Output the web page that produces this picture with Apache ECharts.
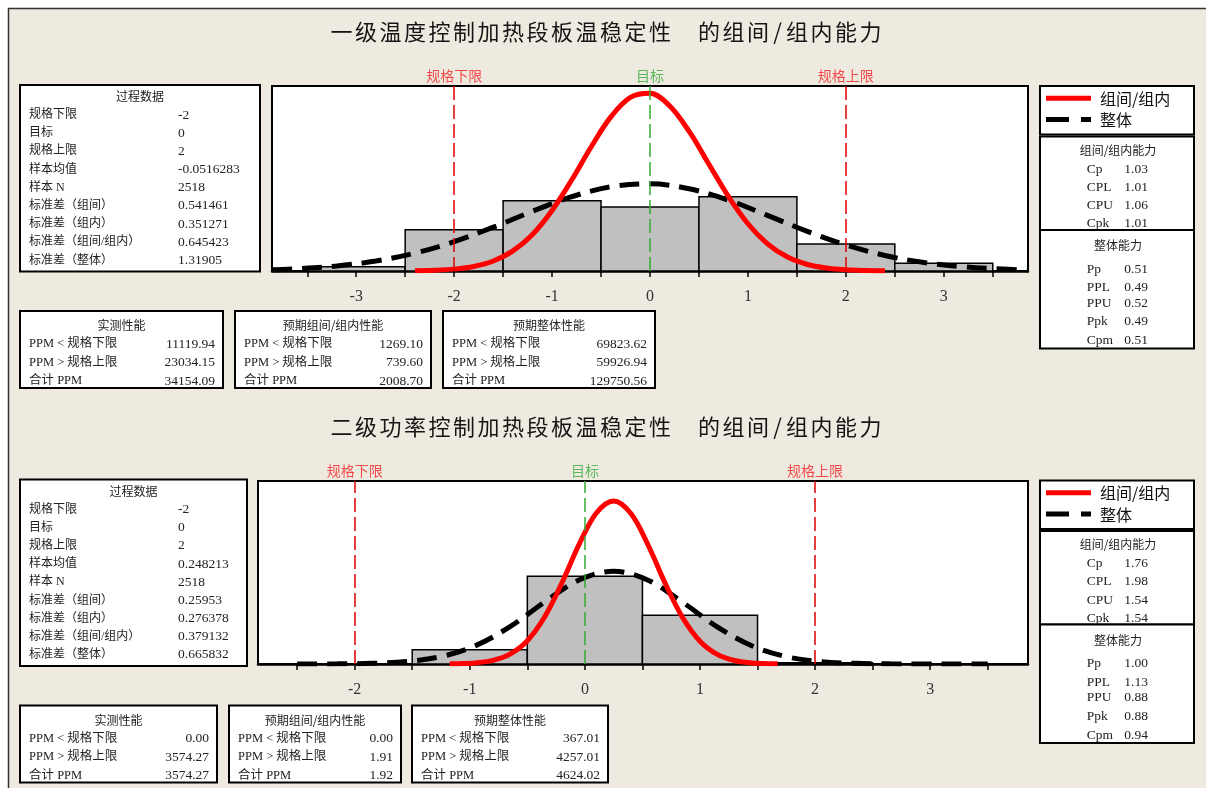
<!DOCTYPE html>
<html><head><meta charset="utf-8">
<script src="https://cdn.jsdelivr.net/npm/echarts@6/dist/echarts.min.js"></script>
<style>html,body{margin:0;padding:0;background:#fff;}#c{width:1206px;height:788px;}</style>
</head><body><div id="c"></div>
<script>
// ---------------- DATA ----------------
const SPEC_X = [-2, 0, 2];
const SPEC_NAMES = ['规格下限', '目标', '规格上限'];
const LEGEND_NAMES = ['组间/组内', '整体'];

const TITLE_1 = '一级温度控制加热段板温稳定性 的组间/组内能力';
const TITLE_2 = '二级功率控制加热段板温稳定性 的组间/组内能力';

// histogram bins (edges) and counts
const BIN_EDGES_1 = [-3.5, -2.5, -1.5, -0.5, 0.5, 1.5, 2.5, 3.5];
const BIN_COUNTS_1 = [37, 360, 613, 558, 648, 236, 67];
const BIN_EDGES_2 = [-1.5, -0.5, 0.5, 1.5, 2.5];
const BIN_COUNTS_2 = [230, 1426, 792, 20];

// fitted curves (x, count-scale height)
const WITHIN_X_1 = [-2.4, -2.2, -2.0, -1.8, -1.6, -1.4, -1.2, -1.0, -0.8, -0.6, -0.4, -0.2, 0, 0.2, 0.4, 0.6, 0.8, 1.0, 1.2, 1.4, 1.6, 1.8, 2.0, 2.2, 2.4];
const WITHIN_Y_1 = [2.1, 6.1, 16.3, 39.6, 87.5, 175.5, 319.6, 528.6, 794, 1084.5, 1345, 1515, 1551, 1442, 1218, 934.7, 651.5, 412.7, 237.3, 124.1, 58.9, 25.4, 9.9, 3.5, 1.2];
const OVERALL_X_1 = [-3.86, -3.6, -3.2, -2.8, -2.4, -2.0, -1.6, -1.2, -0.8, -0.4, 0, 0.4, 0.8, 1.2, 1.6, 2.0, 2.4, 2.8, 3.2, 3.6, 3.86];
const OVERALL_Y_1 = [11.8, 20.4, 44.1, 86.9, 156.1, 255.8, 382.4, 521.4, 648.3, 735.5, 761.0, 718.3, 618.3, 485.5, 347.7, 227.2, 135.4, 73.6, 36.5, 16.5, 9.4];

const WITHIN_X_2 = [-1.175, -1.1, -0.95, -0.8, -0.65, -0.5, -0.35, -0.2, -0.05, 0.1, 0.25, 0.4, 0.55, 0.7, 0.85, 1.0, 1.15, 1.3, 1.45, 1.6, 1.675];
const WITHIN_Y_2 = [2.3, 4.8, 18.0, 58.0, 160.1, 378.1, 763.1, 1317.4, 1944.8, 2454.6, 2649.6, 2445.6, 1930.2, 1302.5, 751.7, 370.9, 156.6, 56.5, 17.4, 4.6, 2.2];
const OVERALL_X_2 = [-2.5, -2.15, -1.85, -1.55, -1.25, -0.95, -0.65, -0.35, -0.05, 0.25, 0.55, 0.85, 1.15, 1.45, 1.75, 2.05, 2.35, 2.65, 2.95, 3.25, 3.5];
const OVERALL_Y_2 = [0.3, 2.3, 10.5, 39.3, 120.0, 298.7, 607.4, 1007.7, 1364.8, 1508.7, 1361.5, 1002.8, 602.9, 295.9, 118.5, 38.8, 10.3, 2.3, 0.4, 0.05, 0];

const TICKS_1 = [-3.5, -3, -2.5, -2, -1.5, -1, -0.5, 0, 0.5, 1, 1.5, 2, 2.5, 3, 3.5];
const LABELS_1 = [-3, -2, -1, 0, 1, 2, 3];
const TICKS_2 = [-2.5, -2, -1.5, -1, -0.5, 0, 0.5, 1, 1.5, 2, 2.5, 3, 3.5];
const LABELS_2 = [-2, -1, 0, 1, 2, 3];

const PROC_TITLE = '过程数据';
const PROC_LABELS = ['规格下限', '目标', '规格上限', '样本均值', '样本 N', '标准差（组间）', '标准差（组内）', '标准差（组间/组内）', '标准差（整体）'];
const PROC_VALUES_1 = ['-2', '0', '2', '-0.0516283', '2518', '0.541461', '0.351271', '0.645423', '1.31905'];
const PROC_VALUES_2 = ['-2', '0', '2', '0.248213', '2518', '0.25953', '0.276378', '0.379132', '0.665832'];

const PPM_TITLES = ['实测性能', '预期组间/组内性能', '预期整体性能'];
const PPM_LABELS = ['PPM < 规格下限', 'PPM > 规格上限', '合计 PPM'];
const PPM_OBS_1 = ['11119.94', '23034.15', '34154.09'];
const PPM_EXPW_1 = ['1269.10', '739.60', '2008.70'];
const PPM_EXPO_1 = ['69823.62', '59926.94', '129750.56'];
const PPM_OBS_2 = ['0.00', '3574.27', '3574.27'];
const PPM_EXPW_2 = ['0.00', '1.91', '1.92'];
const PPM_EXPO_2 = ['367.01', '4257.01', '4624.02'];

const CAP_W_TITLE = '组间/组内能力';
const CAP_O_TITLE = '整体能力';
const CAP_W_LABELS = ['Cp', 'CPL', 'CPU', 'Cpk'];
const CAP_O_LABELS = ['Pp', 'PPL', 'PPU', 'Ppk', 'Cpm'];
const CAP_W_1 = ['1.03', '1.01', '1.06', '1.01'];
const CAP_O_1 = ['0.51', '0.49', '0.52', '0.49', '0.51'];
const CAP_W_2 = ['1.76', '1.98', '1.54', '1.54'];
const CAP_O_2 = ['1.00', '1.13', '0.88', '0.88', '0.94'];

// ---------------- LAYOUT ----------------
const CJK = "'Noto Sans CJK SC'";
const MIX = "'Liberation Serif', 'Noto Sans CJK SC'";
const BEIGE = '#eeeae0';
const VF = '13.5px ' + MIX;

const PANELS = [
  { dy: 0, title: TITLE_1, grid: { left: 272, top: 86, width: 756, height: 185 },
    xMin: -3.86, xMax: 3.86, yMax: 1615, ticks: TICKS_1, labels: LABELS_1,
    edges: BIN_EDGES_1, counts: BIN_COUNTS_1,
    wx: WITHIN_X_1, wy: WITHIN_Y_1, ox: OVERALL_X_1, oy: OVERALL_Y_1,
    proc: { x: 20, w: 240, values: PROC_VALUES_1 },
    ppm: [{ x: 20, w: 203, v: PPM_OBS_1 }, { x: 235, w: 196, v: PPM_EXPW_1 }, { x: 443, w: 212, v: PPM_EXPO_1 }],
    capW: CAP_W_1, capO: CAP_O_1 },
  { dy: 394.5, title: TITLE_2, grid: { left: 258, top: 481, width: 770, height: 183 },
    xMin: -2.84, xMax: 3.85, yMax: 2975, ticks: TICKS_2, labels: LABELS_2,
    edges: BIN_EDGES_2, counts: BIN_COUNTS_2,
    wx: WITHIN_X_2, wy: WITHIN_Y_2, ox: OVERALL_X_2, oy: OVERALL_Y_2,
    proc: { x: 20, w: 227, values: PROC_VALUES_2 },
    ppm: [{ x: 20, w: 197, v: PPM_OBS_2 }, { x: 229, w: 172, v: PPM_EXPW_2 }, { x: 412, w: 196, v: PPM_EXPO_2 }],
    capW: CAP_W_2, capO: CAP_O_2 }
];

function txt(x, y, s, font, fill, align, z) {
  const a = align || 'left';
  return { type: 'text', x: x, y: y, z: z || 20, silent: true,
    style: { text: s, font: font, fill: fill || '#222', align: a, verticalAlign: 'middle', textAlign: a, textVerticalAlign: 'middle' } };
}
function box(x, y, w, h, z) {
  return { type: 'rect', z: z || 10, silent: true, shape: { x: x, y: y, width: w, height: h },
    style: { fill: '#fff', stroke: '#000', lineWidth: 2 } };
}
function titleEls(str, cy) {
  const fs = 22, pitch = 24.5;
  const chars = Array.from(str);
  const adv = c => c === '/' ? pitch * 0.6 : pitch;
  const total = chars.reduce((s, c) => s + adv(c), 0) - (pitch - fs);
  let x = 606 - total / 2;
  const els = [];
  chars.forEach(c => {
    const a = adv(c);
    if (c !== ' ') els.push(txt(x + (a - (pitch - fs)) / 2, cy, c, fs + 'px ' + CJK, '#151515', 'center', 30));
    x += a;
  });
  return els;
}

const graphic = [{ type: 'rect', z: -100, silent: true, shape: { x: 8.5, y: 8.5, width: 1210, height: 790 },
  style: { fill: BEIGE, stroke: '#333', lineWidth: 1.5 } }];

const grids = [], xAxes = [], yAxes = [], series = [];

PANELS.forEach((P, i) => {
  const dy = P.dy;
  graphic.push(...titleEls(P.title, 32 + dy));

  // process data box
  graphic.push(box(P.proc.x, 85 + dy, P.proc.w, 186.5));
  graphic.push(txt(P.proc.x + P.proc.w / 2, 96.7 + dy, PROC_TITLE, '12px ' + CJK, '#222', 'center'));
  PROC_LABELS.forEach((l, k) => {
    const y = 115 + 18.17 * k + dy;
    graphic.push(txt(P.proc.x + 9, y, l, '12px ' + MIX, '#222', 'left'));
    graphic.push(txt(P.proc.x + 158, y, P.proc.values[k], VF, '#222', 'left'));
  });

  // PPM boxes
  P.ppm.forEach((b, j) => {
    graphic.push(box(b.x, 311 + dy, b.w, 77));
    graphic.push(txt(b.x + b.w / 2, 325.5 + dy, PPM_TITLES[j], '12px ' + CJK, '#222', 'center'));
    PPM_LABELS.forEach((l, k) => {
      const y = 344 + 18.5 * k + dy;
      graphic.push(txt(b.x + 9, y, l, '12.5px ' + MIX, '#222', 'left'));
      graphic.push(txt(b.x + b.w - 8, y, b.v[k], VF, '#222', 'right'));
    });
  });

  // legend box
  graphic.push(box(1040, 86 + dy, 154, 48.5));
  graphic.push({ type: 'line', z: 20, silent: true, shape: { x1: 1046, y1: 98.3 + dy, x2: 1091, y2: 98.3 + dy },
    style: { stroke: '#ff0000', lineWidth: 5 } });
  graphic.push({ type: 'line', z: 20, silent: true, shape: { x1: 1046, y1: 119.5 + dy, x2: 1091, y2: 119.5 + dy },
    style: { stroke: '#000', lineWidth: 5, lineDash: [23, 12] } });
  graphic.push(txt(1100, 98.5 + dy, LEGEND_NAMES[0], '16px ' + CJK, '#111', 'left'));
  graphic.push(txt(1100, 120 + dy, LEGEND_NAMES[1], '16px ' + CJK, '#111', 'left'));

  // capability boxes
  graphic.push(box(1040, 136.5 + dy, 154, 93.5, 10));
  graphic.push(txt(1118, 150 + dy, CAP_W_TITLE, '12px ' + CJK, '#222', 'center', 12));
  const wRows = [169, 187.3, 205.5, 223.7];
  CAP_W_LABELS.forEach((l, k) => {
    graphic.push(txt(1086.7, wRows[k] + dy, l, VF, '#222', 'left', 12));
    graphic.push(txt(1124.3, wRows[k] + dy, P.capW[k], VF, '#222', 'left', 12));
  });
  graphic.push(box(1040, 230 + dy, 154, 118.5, 14));
  graphic.push(txt(1118, 245.7 + dy, CAP_O_TITLE, '12px ' + CJK, '#222', 'center', 16));
  const oRows = [269.3, 287.7, 303.3, 321.7, 340.7];
  CAP_O_LABELS.forEach((l, k) => {
    graphic.push(txt(1086.7, oRows[k] + dy, l, VF, '#222', 'left', 16));
    graphic.push(txt(1124.3, oRows[k] + dy, P.capO[k], VF, '#222', 'left', 16));
  });

  // chart grid + axes
  grids.push(Object.assign({ show: true, backgroundColor: '#fff', borderColor: '#000', borderWidth: 2 }, P.grid));
  xAxes.push({ type: 'value', gridIndex: i, min: P.xMin, max: P.xMax,
    axisLine: { show: true, onZero: false, lineStyle: { color: '#000', width: 2.5 } },
    axisTick: { show: true, length: 6, lineStyle: { color: '#000', width: 1.5 }, customValues: P.ticks },
    axisLabel: { show: true, customValues: P.labels, color: '#333', fontFamily: 'Liberation Serif', fontSize: 16, margin: 18,
      formatter: v => String(v) },
    splitLine: { show: false } });
  yAxes.push({ type: 'value', gridIndex: i, min: 0, max: P.yMax, show: false });

  // spec lines
  series.push({ type: 'line', xAxisIndex: i, yAxisIndex: i, z: 1, silent: true, animation: false,
    data: SPEC_X.map(x => [x, 0]), showSymbol: false, symbol: 'none', lineStyle: { width: 0, opacity: 0 },
    markLine: { symbol: ['none', 'none'], silent: true, animation: false,
      label: { show: true, position: 'end', formatter: '{b}', fontSize: 14, fontFamily: CJK, distance: 3 },
      lineStyle: { type: [14, 5], width: 1.5 },
      data: SPEC_X.map((x, k) => ({ xAxis: x, name: SPEC_NAMES[k],
        lineStyle: { color: k === 1 ? '#33aa33' : '#e00000', type: [14, 5], width: 1.5 },
        label: { color: k === 1 ? '#5cb85c' : '#f24a4a' } })) } });

  // histogram
  const binData = P.counts.map((c, k) => [P.edges[k], P.edges[k + 1], c]);
  series.push({ type: 'custom', xAxisIndex: i, yAxisIndex: i, z: 2, silent: true, animation: false,
    encode: { x: [0, 1], y: 2 }, data: binData,
    renderItem: (params, api) => {
      const a = api.coord([api.value(0), api.value(2)]);
      const b = api.coord([api.value(1), 0]);
      return { type: 'rect', shape: { x: a[0], y: a[1], width: b[0] - a[0], height: b[1] - a[1] },
        style: { fill: '#c0c0c0', stroke: '#000', lineWidth: 1.5 } };
    } });

  // overall (dashed black)
  series.push({ type: 'line', name: LEGEND_NAMES[1], xAxisIndex: i, yAxisIndex: i, z: 3, silent: true, animation: false,
    data: P.ox.map((x, k) => [x, P.oy[k]]), showSymbol: false, symbol: 'none', smooth: 0.35,
    lineStyle: { color: '#000', width: 5, type: [20, 10] } });
  // within (red)
  series.push({ type: 'line', name: LEGEND_NAMES[0], xAxisIndex: i, yAxisIndex: i, z: 4, silent: true, animation: false,
    data: P.wx.map((x, k) => [x, P.wy[k]]), showSymbol: false, symbol: 'none', smooth: 0.35,
    lineStyle: { color: '#ff0000', width: 5 } });
});

const chart = echarts.init(document.getElementById('c'), null, { renderer: 'canvas', width: 1206, height: 788 });
chart.setOption({
  backgroundColor: '#fff',
  animation: false,
  textStyle: { fontFamily: CJK },
  grid: grids, xAxis: xAxes, yAxis: yAxes, series: series,
  graphic: { elements: graphic }
});
</script></body></html>
